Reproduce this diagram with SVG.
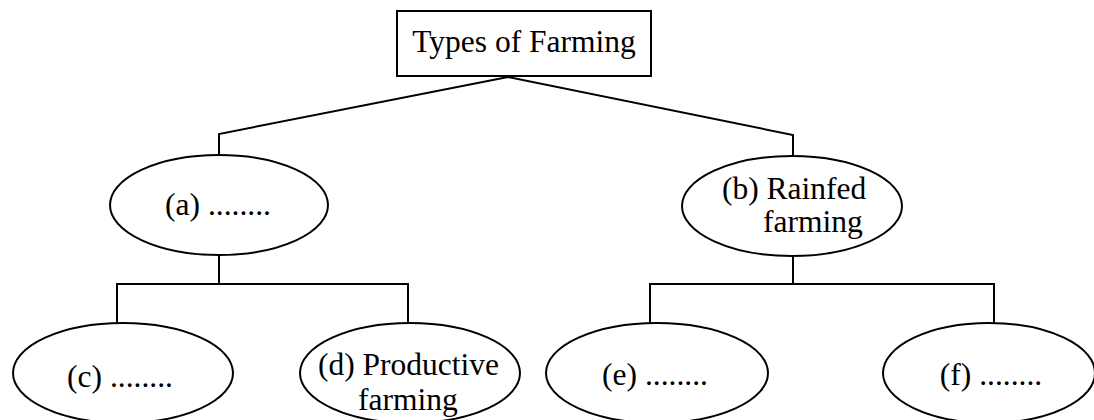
<svg xmlns="http://www.w3.org/2000/svg" width="1094" height="420" viewBox="0 0 1094 420">
<style>
.shape{fill:#fff;stroke:#000;stroke-width:2}
.conn{fill:none;stroke:#000;stroke-width:2}
text{font-family:"Liberation Serif","Times New Roman",serif;font-size:31.5px;fill:#000}
.c{text-anchor:middle}
</style>
<rect width="1094" height="420" fill="#fff"/>
<g id="connectors">
<polyline class="conn" points="219,155 219,134 508,77 793,135 793,155"/>
<line class="conn" x1="219" y1="255" x2="219" y2="284"/>
<polyline class="conn" points="117,324 117,284 408,284 408,324"/>
<line class="conn" x1="793" y1="256" x2="793" y2="284"/>
<polyline class="conn" points="650,324 650,284 994,284 994,324"/>
</g>
<g id="root">
<rect class="shape" x="397" y="11" width="254" height="65"/>
<text class="c" x="524" y="52">Types of Farming</text>
</g>
<g id="node-a">
<ellipse class="shape" cx="219" cy="205" rx="109" ry="50"/>
<text class="c" x="218" y="215">(a) ........</text>
</g>
<g id="node-b">
<ellipse class="shape" cx="792" cy="206" rx="110" ry="50"/>
<text x="722" y="199">(b) Rainfed</text>
<text x="763" y="232">farming</text>
</g>
<g id="node-c">
<ellipse class="shape" cx="123" cy="373" rx="110" ry="50"/>
<text class="c" x="120" y="387">(c) ........</text>
</g>
<g id="node-d">
<ellipse class="shape" cx="410" cy="373" rx="110" ry="50"/>
<text x="318" y="375">(d) Productive</text>
<text x="358" y="410">farming</text>
</g>
<g id="node-e">
<ellipse class="shape" cx="657" cy="373" rx="111" ry="50"/>
<text class="c" x="655" y="385">(e) ........</text>
</g>
<g id="node-f">
<ellipse class="shape" cx="989" cy="373" rx="106" ry="50"/>
<text class="c" x="991" y="385">(f) ........</text>
</g>
</svg>
